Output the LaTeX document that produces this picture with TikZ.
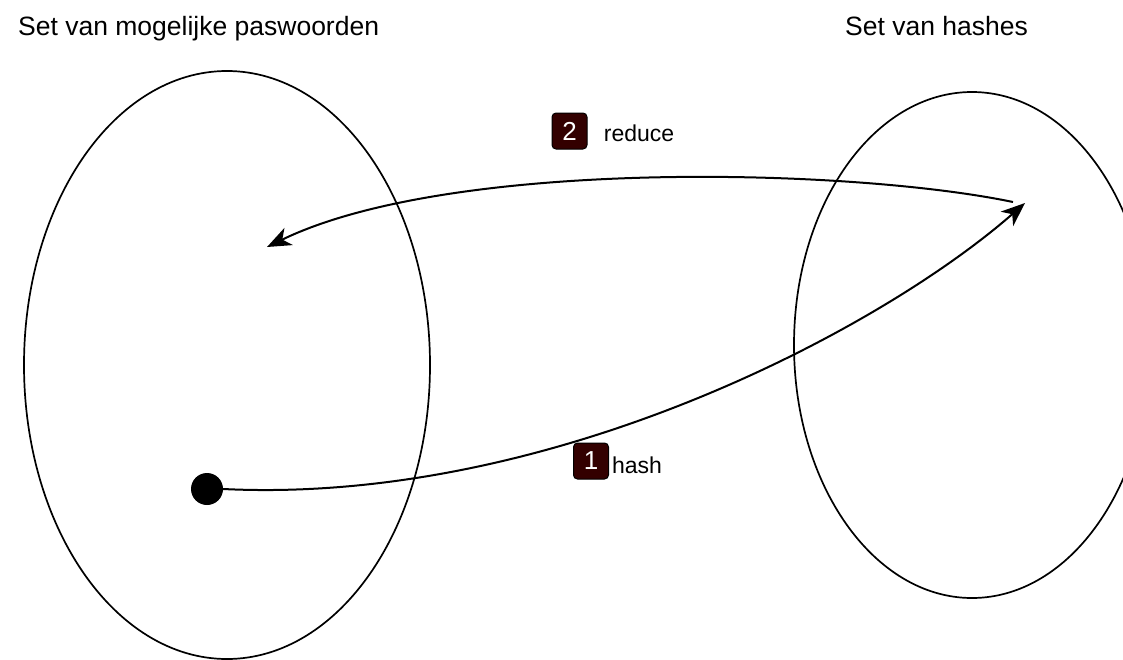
\documentclass[tikz,border=0pt]{standalone}
\usepackage{fontspec}
\setmainfont{Liberation Sans}
\usetikzlibrary{shapes.geometric,arrows.meta}
\definecolor{badgefill}{RGB}{51,0,0}
\tikzset{
  setshape/.style={ellipse, draw, line width=1.7pt, inner sep=0pt},
  title/.style={font=\fontsize{26.5}{30}\selectfont, inner sep=0pt, anchor=base west},
  lbl/.style={font=\fontsize{23}{26}\selectfont, inner sep=0pt},
  badge/.style={draw=black, line width=1pt, fill=badgefill, text=white, rounded corners=4pt,
    minimum width=35pt, minimum height=36pt, inner sep=0pt, font=\fontsize{26}{28}\selectfont},
  conn/.style={line width=2pt, -{Stealth[length=24pt, width=19pt, inset=7pt]}}
}
\begin{document}
\begin{tikzpicture}[x=1pt,y=-1pt]
\useasboundingbox (0,0) rectangle (1123,659);
\clip (0,0) rectangle (1123,659);
\fill[white] (0,0) rectangle (1123,659);
\node[title] (t1) at (18,35) {Set van mogelijke paswoorden};
\node[title] (t2) at (845,35) {Set van hashes};
\node[setshape, minimum width=406pt, minimum height=588pt] (pw) at (227,365) {};
\node[setshape, minimum width=356pt, minimum height=506pt] (hs) at (972,345) {};
\node[circle, fill=black, minimum size=32pt, inner sep=0pt] (p) at (207,489) {};
\coordinate (htip) at (1025,203);
\coordinate (rstart) at (1013,202);
\coordinate (rtip) at (267,247);
\draw[conn] (p.east) .. controls (550,505) and (880,330) .. (htip);
\draw[conn] (rstart) .. controls (850,168) and (450,158) .. (rtip);
\node[badge] (b2) at (569.5,131) {2};
\node[lbl] (l2) at (639,133) {reduce};
\node[badge] (b1) at (591,461) {1};
\node[lbl] (l1) at (637,465) {hash};
\end{tikzpicture}
\end{document}
